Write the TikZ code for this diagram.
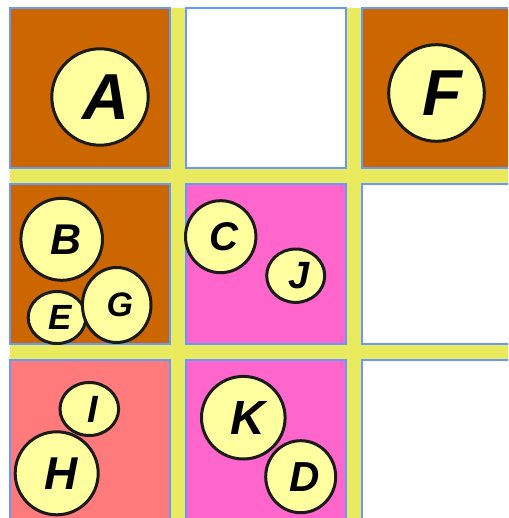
\documentclass[tikz,border=0pt]{standalone}
\usepackage{fontspec}
\setmainfont{Liberation Sans}
\usetikzlibrary{shapes.geometric}
\definecolor{gridyellow}{HTML}{EAEA5E}
\definecolor{cellbrown}{HTML}{CC6600}
\definecolor{cellpink}{HTML}{FF66CC}
\definecolor{cellsalmon}{HTML}{FF7A7A}
\definecolor{cellborder}{HTML}{6699FF}
\definecolor{ballfill}{HTML}{FFFFA0}
\definecolor{ballline}{HTML}{1A1A1A}
\tikzset{
  cellbox/.style={draw=cellborder, line width=2pt},
  ball/.style={ellipse, draw=ballline, fill=ballfill, line width=3pt, inner sep=0pt},
  fs/.style={font=\fontsize{#1}{#1}\selectfont\bfseries\itshape,
    execute at begin node={\kern\dimexpr #1pt*18/100\relax}}
}
\begin{document}
\begin{tikzpicture}[x=1pt,y=-1pt]
\useasboundingbox (0,0) rectangle (508,518);
\clip (0,0) rectangle (508,518);
\fill[gridyellow] (10,8) rectangle (508,518);
% row 1
\path[cellbox, fill=cellbrown] (10,8) rectangle (170,168);
\path[cellbox, fill=white] (186,8) rectangle (346,168);
\path[cellbox, fill=cellbrown] (362,8) rectangle (522,168);
% row 2
\path[cellbox, fill=cellbrown] (10,184) rectangle (170,344);
\path[cellbox, fill=cellpink] (186,184) rectangle (346,344);
\path[cellbox, fill=white] (362,184) rectangle (522,344);
% row 3
\path[cellbox, fill=cellsalmon] (10,360) rectangle (170,520);
\path[cellbox, fill=cellpink] (186,360) rectangle (346,520);
\path[cellbox, fill=white] (362,360) rectangle (522,520);
% balls
\node[ball, fs=65, minimum width=96.4pt, minimum height=96.4pt] (A) at (100,97) {A};
\node[ball, fs=65, minimum width=95.6pt, minimum height=96.6pt] (F) at (436.5,93) {F};
\node[ball, fs=43, minimum width=81.6pt, minimum height=82pt] (B) at (61.7,239.3) {B};
\node[ball, fs=35, minimum width=57.6pt, minimum height=52pt] (E) at (57,317.5) {E};
\node[ball, fs=34, minimum width=68.6pt, minimum height=75pt] (G) at (116.7,305) {G};
\node[ball, fs=40, minimum width=70.4pt, minimum height=72pt] (C) at (220.7,236.7) {C};
\node[ball, fs=38, minimum width=58pt, minimum height=53.4pt] (J) at (295.7,275.7) {J};
\node[ball, fs=38, minimum width=58.6pt, minimum height=53pt] (I) at (89.3,409) {I};
\node[ball, fs=46, minimum width=83pt, minimum height=83pt] (H) at (56.7,473.3) {H};
\node[ball, fs=48, minimum width=83.6pt, minimum height=82.6pt] (K) at (243.3,417.7) {K};
\node[ball, fs=42, minimum width=70pt, minimum height=72pt] (D) at (300.7,476.7) {D};
\end{tikzpicture}
\end{document}
